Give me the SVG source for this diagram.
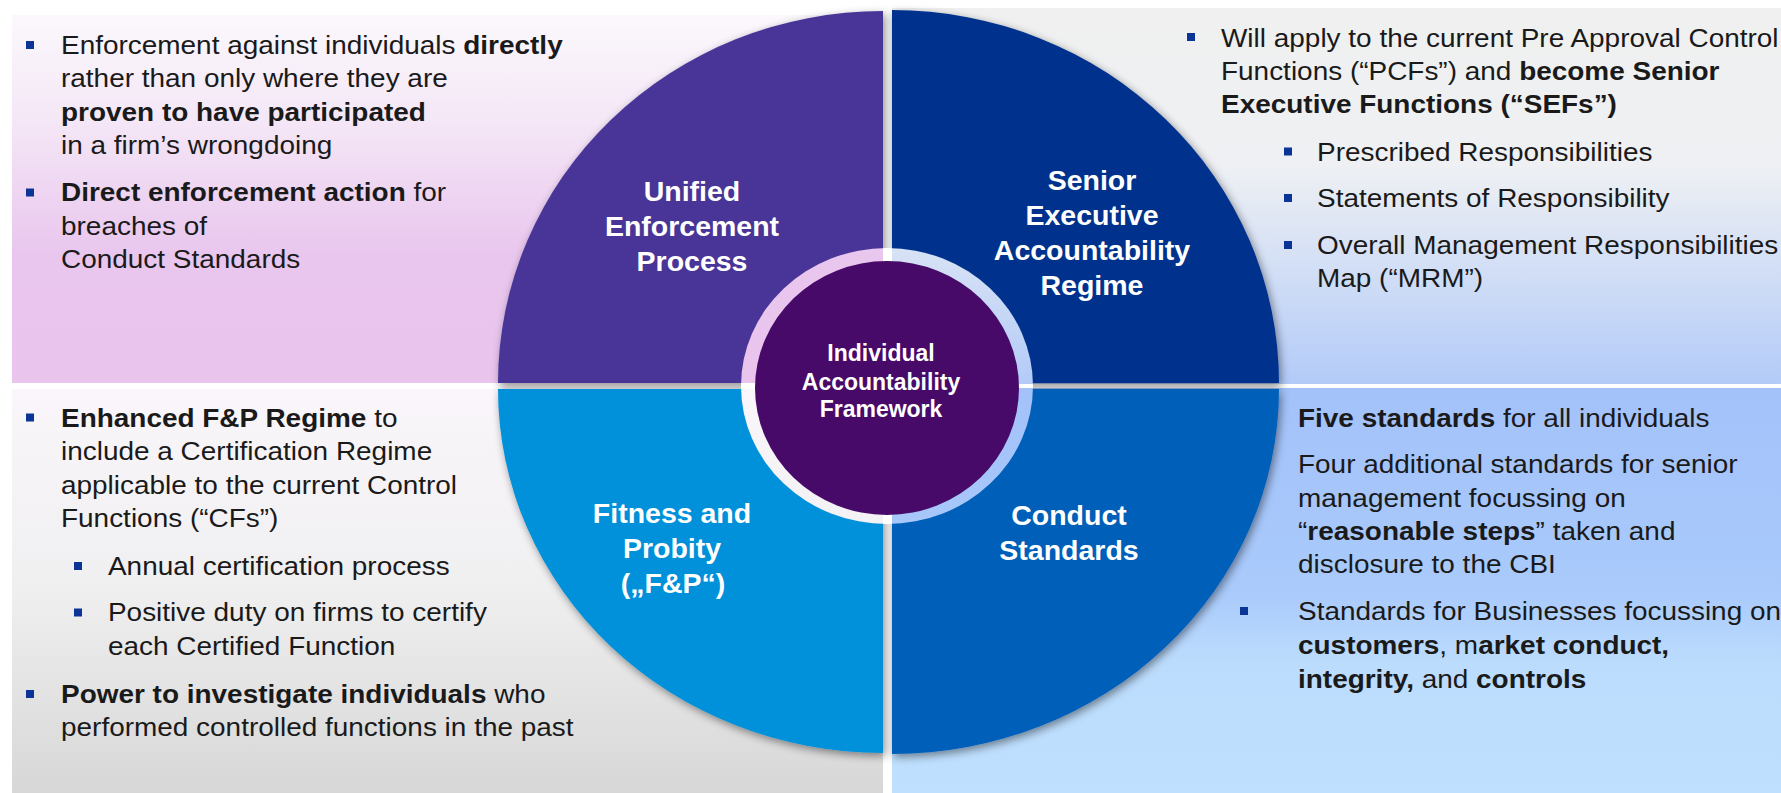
<svg xmlns="http://www.w3.org/2000/svg" width="1781" height="793" viewBox="0 0 1781 793">
  <style>
    .body { font-family: "Liberation Sans", Arial, sans-serif; font-size: 26px; fill: #1a1a1a; }
    .b { font-weight: bold; }
    .lbl { font-family: "Liberation Sans", Arial, sans-serif; font-size: 28.5px; font-weight: bold; fill: #ffffff; text-anchor: middle; }
    .core { font-family: "Liberation Sans", Arial, sans-serif; font-size: 23px; font-weight: bold; fill: #ffffff; text-anchor: middle; }
    .bullet { fill: #0a3596; }
  </style>
  <defs>
    <linearGradient id="gTL" x1="0" y1="0" x2="0" y2="1">
      <stop offset="0" stop-color="#fbf8fc"/>
      <stop offset="0.3" stop-color="#f4e6f6"/>
      <stop offset="0.65" stop-color="#e9c6ee"/>
      <stop offset="1" stop-color="#e9c5ee"/>
    </linearGradient>
    <linearGradient id="gBL" x1="0" y1="0" x2="0" y2="1">
      <stop offset="0" stop-color="#faf6fb"/>
      <stop offset="0.5" stop-color="#efeff0"/>
      <stop offset="1" stop-color="#d7d7d7"/>
    </linearGradient>
    <linearGradient id="gTR" x1="0" y1="0" x2="0" y2="1">
      <stop offset="0" stop-color="#f0f0f0"/>
      <stop offset="0.42" stop-color="#eef0f3"/>
      <stop offset="1" stop-color="#b3cbf8"/>
    </linearGradient>
    <linearGradient id="gBR" x1="0" y1="0" x2="0" y2="1">
      <stop offset="0" stop-color="#a3c2fa"/>
      <stop offset="0.5" stop-color="#a9cafb"/>
      <stop offset="0.68" stop-color="#bcdcfd"/>
      <stop offset="1" stop-color="#bfe0fe"/>
    </linearGradient>
    <filter id="shadow" x="-10%" y="-10%" width="120%" height="120%">
      <feDropShadow dx="2" dy="3" stdDeviation="4" flood-color="#000000" flood-opacity="0.45"/>
    </filter>
    <!-- hole around the hub so the panel colours show through as a ring -->
    <mask id="hubHole" maskUnits="userSpaceOnUse" x="0" y="0" width="1781" height="793">
      <rect x="0" y="0" width="1781" height="793" fill="#fff"/>
      <ellipse cx="887" cy="386" rx="146" ry="138" fill="#000"/>
    </mask>
  </defs>

  <rect x="0" y="0" width="1781" height="793" fill="#ffffff"/>

  <!-- background panels -->
  <g id="panels">
    <rect x="12" y="15" width="871" height="368" fill="url(#gTL)"/>
    <rect x="12" y="389" width="871" height="404" fill="url(#gBL)"/>
    <rect x="892" y="8" width="889" height="376" fill="url(#gTR)"/>
    <rect x="892" y="388" width="889" height="405" fill="url(#gBR)"/>
  </g>

  <!-- four quadrants of the wheel -->
  <g mask="url(#hubHole)">
    <g filter="url(#shadow)">
      <g id="q-enforcement">
        <path d="M883,383 L498,383 A385,372 0 0 1 883,11 Z" fill="#483698"/>
      </g>
      <g id="q-seniorexec">
        <path d="M892,383 L892,10 A387,373 0 0 1 1279,383 Z" fill="#00338d"/>
      </g>
      <g id="q-fitness">
        <path d="M883,389 L883,753 A385,364 0 0 1 498,389 Z" fill="#0091da"/>
      </g>
      <g id="q-conduct">
        <path d="M892,389 L1279,389 A387,365 0 0 1 892,754 Z" fill="#005eb8"/>
      </g>
    </g>
  </g>

  <g id="labels">
    <text class="lbl" x="692" y="201">Unified</text>
    <text class="lbl" x="692" y="236">Enforcement</text>
    <text class="lbl" x="692" y="271">Process</text>

    <text class="lbl" x="1092" y="190">Senior</text>
    <text class="lbl" x="1092" y="225">Executive</text>
    <text class="lbl" x="1092" y="260">Accountability</text>
    <text class="lbl" x="1092" y="295">Regime</text>

    <text class="lbl" x="672" y="523">Fitness and</text>
    <text class="lbl" x="672" y="558">Probity</text>
    <text class="lbl" x="673" y="593">(„F&amp;P“)</text>

    <text class="lbl" x="1069" y="525">Conduct</text>
    <text class="lbl" x="1069" y="560">Standards</text>
  </g>

  <!-- hub -->
  <g id="hub">
    <ellipse cx="887" cy="388" rx="132" ry="127" fill="#470a68"/>
    <text class="core" x="881" y="361">Individual</text>
    <text class="core" x="881" y="390">Accountability</text>
    <text class="core" x="881" y="417">Framework</text>
  </g>

  <g id="connectors"/>

  <!-- top-left: enforcement notes -->
  <g id="note-enforcement">
    <rect class="bullet" x="26" y="41" width="8" height="8"/>
    <rect class="bullet" x="26" y="188.5" width="8" height="8"/>
    <g transform="translate(61 0) scale(1.075 1)">
      <text class="body" x="0" y="54">Enforcement against individuals <tspan class="b">directly</tspan></text>
      <text class="body" x="0" y="87.5">rather than only where they are</text>
      <text class="body b" x="0" y="121">proven to have participated</text>
      <text class="body" x="0" y="154">in a firm’s wrongdoing</text>
      <text class="body" x="0" y="201.5"><tspan class="b">Direct enforcement action</tspan> for</text>
      <text class="body" x="0" y="235">breaches of</text>
      <text class="body" x="0" y="268.5">Conduct Standards</text>
    </g>
  </g>

  <!-- bottom-left: fitness and probity notes -->
  <g id="note-fitness">
    <rect class="bullet" x="26" y="413.5" width="8" height="8"/>
    <rect class="bullet" x="74" y="562" width="8" height="8"/>
    <rect class="bullet" x="74" y="608.5" width="8" height="8"/>
    <rect class="bullet" x="26" y="690" width="8" height="8"/>
    <g transform="translate(61 0) scale(1.075 1)">
      <text class="body" x="0" y="426.7"><tspan class="b">Enhanced F&amp;P Regime</tspan> to</text>
      <text class="body" x="0" y="460.5">include a Certification Regime</text>
      <text class="body" x="0" y="494">applicable to the current Control</text>
      <text class="body" x="0" y="527.5">Functions (“CFs”)</text>
      <text class="body" x="43.7" y="575">Annual certification process</text>
      <text class="body" x="43.7" y="621.5">Positive duty on firms to certify</text>
      <text class="body" x="43.7" y="655.5">each Certified Function</text>
      <text class="body" x="0" y="703"><tspan class="b">Power to investigate individuals</tspan> who</text>
      <text class="body" x="0" y="736.5">performed controlled functions in the past</text>
    </g>
  </g>

  <!-- top-right: senior executive regime notes -->
  <g id="note-seniorexec">
    <rect class="bullet" x="1187" y="33" width="8" height="8"/>
    <rect class="bullet" x="1284" y="147.5" width="8" height="8"/>
    <rect class="bullet" x="1284" y="194" width="8" height="8"/>
    <rect class="bullet" x="1284" y="241" width="8" height="8"/>
    <g transform="translate(1221 0) scale(1.075 1)">
      <text class="body" x="0" y="46.7">Will apply to the current Pre Approval Control</text>
      <text class="body" x="0" y="80">Functions (“PCFs”) and <tspan class="b">become Senior</tspan></text>
      <text class="body b" x="0" y="113.3">Executive Functions (“SEFs”)</text>
      <text class="body" x="89.3" y="160.7">Prescribed Responsibilities</text>
      <text class="body" x="89.3" y="207.3">Statements of Responsibility</text>
      <text class="body" x="89.3" y="254">Overall Management Responsibilities</text>
      <text class="body" x="89.3" y="287.3">Map (“MRM”)</text>
    </g>
  </g>

  <!-- bottom-right: conduct standards notes -->
  <g id="note-conduct">
    <rect class="bullet" x="1240" y="607" width="8" height="8"/>
    <g transform="translate(1298 0) scale(1.075 1)">
      <text class="body" x="0" y="426.7"><tspan class="b">Five standards</tspan> for all individuals</text>
      <text class="body" x="0" y="473.3">Four additional standards for senior</text>
      <text class="body" x="0" y="506.7">management focussing on</text>
      <text class="body" x="0" y="540">“<tspan class="b">reasonable steps</tspan>” taken and</text>
      <text class="body" x="0" y="573.5">disclosure to the CBI</text>
      <text class="body" x="0" y="620">Standards for Businesses focussing on</text>
      <text class="body" x="0" y="654.5"><tspan class="b">customers</tspan>, m<tspan class="b">arket conduct,</tspan></text>
      <text class="body" x="0" y="688"><tspan class="b">integrity,</tspan> and <tspan class="b">controls</tspan></text>
    </g>
  </g>
</svg>
